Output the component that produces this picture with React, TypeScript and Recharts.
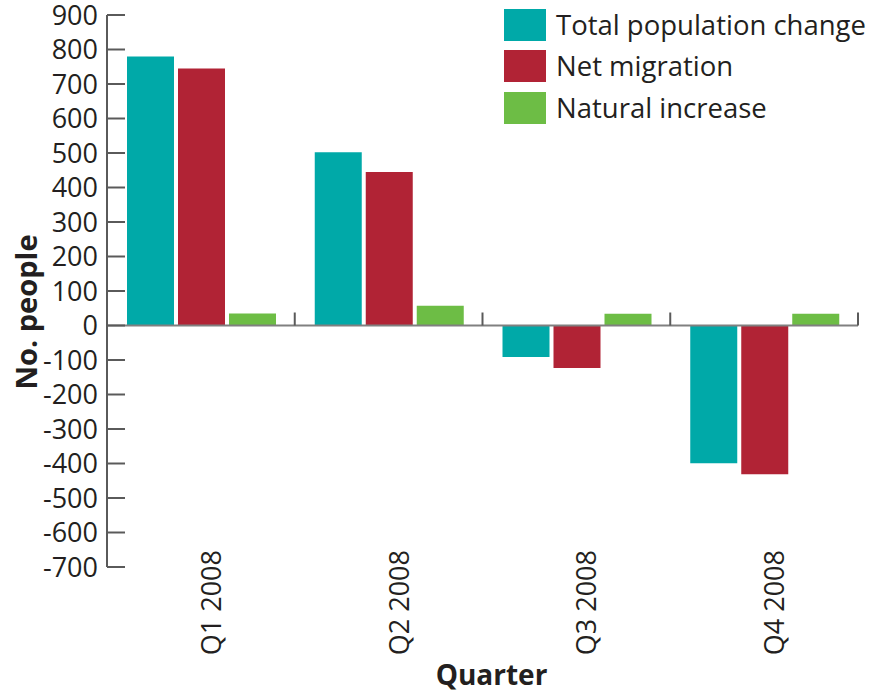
import React from "react";
import {
  BarChart,
  Bar,
  XAxis,
  YAxis,
  Legend,
  Label,
  ReferenceLine,
} from "recharts";

const quarters = ["Q1 2008", "Q2 2008", "Q3 2008", "Q4 2008"];
const totalChange = [780, 502, -91, -399];
const netMigration = [745, 445, -123, -431];
const naturalIncrease = [35, 57, 34, 34];
const yTicks = [900, 800, 700, 600, 500, 400, 300, 200, 100, 0, -100, -200, -300, -400, -500, -600, -700];

const series = [
  { key: "total", name: "Total population change", color: "#00A9A8" },
  { key: "net", name: "Net migration", color: "#B12335" },
  { key: "natural", name: "Natural increase", color: "#6DBD45" },
];

const data = quarters.map((q, i) => ({
  quarter: q,
  total: totalChange[i],
  net: netMigration[i],
  natural: naturalIncrease[i],
}));

const FONT = "'Open Sans', sans-serif";
const INK = "#231F20";
const AXIS = "#5a5a5a";

const YTick = ({ x, y, payload }: any) => (
  <g>
    <line x1={x + 9} x2={x + 27} y1={y} y2={y} stroke={AXIS} strokeWidth={2} />
    <text x={x} y={y} dy="0.36em" textAnchor="end" fontSize={27} fontFamily={FONT} fill={INK}>
      {payload.value}
    </text>
  </g>
);

const XTick = ({ x, y, payload }: any) => (
  <text
    x={x}
    y={y - 17}
    dy={20}
    transform={`rotate(-90, ${x}, ${y - 17})`}
    textAnchor="end"
    fontSize={27}
    fontFamily={FONT}
    fill={INK}
  >
    {payload.value}
  </text>
);

// zero baseline with small ticks at the category borders
const ZeroLine = (props: any) => {
  const { x1, y1, x2, y2 } = props;
  const step = (x2 - x1) / quarters.length;
  return (
    <g>
      <line x1={x1} x2={x2} y1={y1} y2={y2} stroke="#808080" strokeWidth={2} />
      {quarters.map((_, i) => (
        <line
          key={i}
          x1={x1 + step * (i + 1)}
          x2={x1 + step * (i + 1)}
          y1={y1}
          y2={y1 - 13}
          stroke={AXIS}
          strokeWidth={2}
        />
      ))}
    </g>
  );
};

const LegendBox = () => (
  <div style={{ fontFamily: FONT, fontSize: 27.5, color: INK }}>
    {series.map((s) => (
      <div key={s.key} style={{ display: "flex", alignItems: "center", height: 41.5 }}>
        <div style={{ width: 42, height: 32, background: s.color, marginRight: 10 }} />
        <span style={{ lineHeight: "32px", whiteSpace: "nowrap" }}>{s.name}</span>
      </div>
    ))}
  </div>
);

export default function App() {
  return (
    <div style={{ position: "absolute", left: 0, top: 0 }}>
      <BarChart
        width={869}
        height={693}
        data={data}
        margin={{ top: 15, right: 11, left: 0, bottom: 0 }}
        barCategoryGap={20}
        barGap={4}
      >
        <XAxis
          dataKey="quarter"
          height={126}
          axisLine={false}
          tickLine={false}
          tickSize={0}
          tickMargin={0}
          interval={0}
          tick={<XTick />}
        >
          <Label
            content={({ viewBox }: any) => (
              <text
                x={viewBox.x + viewBox.width / 2 + 9}
                y={viewBox.y + 118}
                textAnchor="middle"
                fontSize={28}
                fontWeight="bold"
                fontFamily={FONT}
                fill={INK}
              >
                Quarter
              </text>
            )}
          />
        </XAxis>
        <YAxis
          width={107}
          domain={[-700, 900]}
          ticks={yTicks}
          interval={0}
          axisLine={{ stroke: AXIS, strokeWidth: 2 }}
          tickLine={false}
          tickSize={0}
          tickMargin={9}
          tick={<YTick />}
        >
          <Label
            content={({ viewBox }: any) => {
              const cx = viewBox.x + 27;
              const cy = viewBox.y + viewBox.height / 2 + 21;
              return (
                <text
                  x={cx}
                  y={cy}
                  dy="0.36em"
                  transform={`rotate(-90, ${cx}, ${cy})`}
                  textAnchor="middle"
                  fontSize={29}
                  fontWeight="bold"
                  fontFamily={FONT}
                  fill={INK}
                >
                  No. people
                </text>
              );
            }}
          />
        </YAxis>
        <Legend
          content={<LegendBox />}
          layout="horizontal"
          verticalAlign="middle"
          align="center"
          wrapperStyle={{ position: "absolute", top: 4, left: 504, width: 365, height: 125 }}
        />
        <ReferenceLine y={0} shape={<ZeroLine />} />
        {series.map((s) => (
          <Bar key={s.key} dataKey={s.key} name={s.name} fill={s.color} isAnimationActive={false} />
        ))}
      </BarChart>
    </div>
  );
}
